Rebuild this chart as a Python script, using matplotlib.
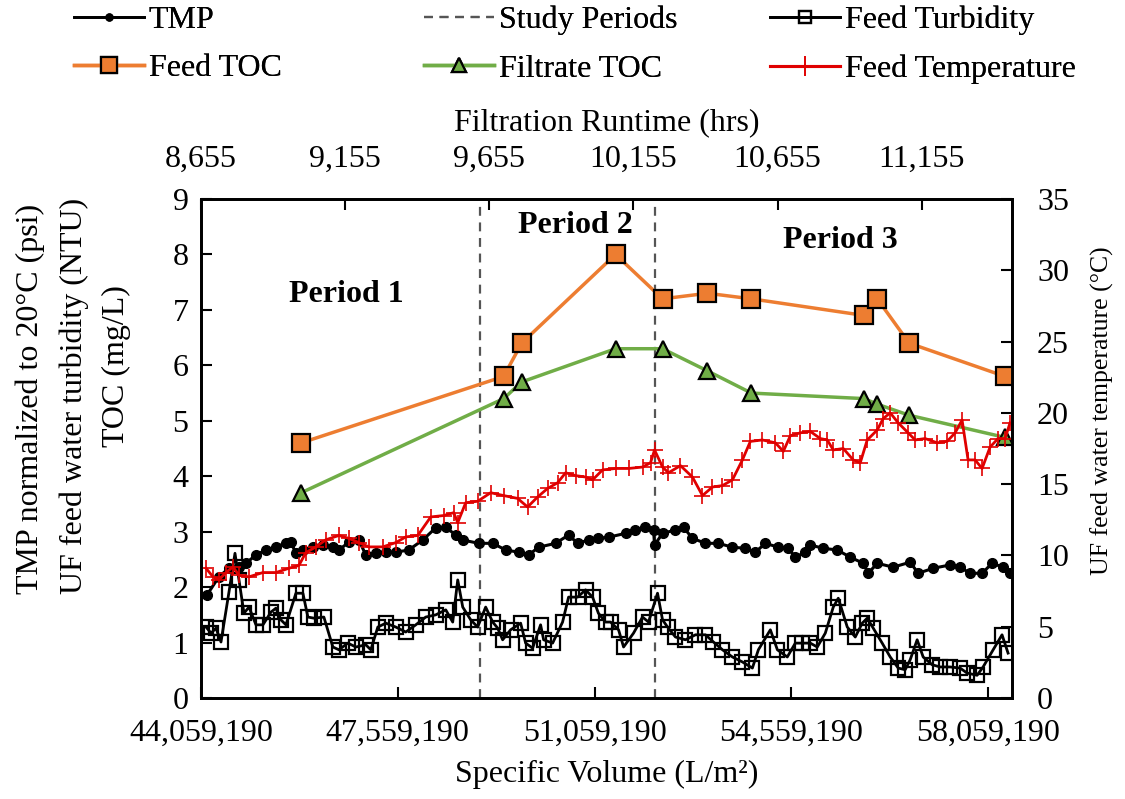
import numpy as np
import matplotlib.pyplot as plt
from matplotlib.lines import Line2D
from matplotlib.ticker import FuncFormatter

plt.rcParams['font.family'] = ['Liberation Serif', 'DejaVu Serif']
plt.rcParams['font.size'] = 23

# specific volume in millions of L/m2
toc_vol = [45.836, 49.442, 49.762, 51.432, 52.268, 53.067, 53.848, 55.856, 56.087, 56.655, 58.361]
feed_toc = [4.6, 5.8, 6.4, 8.0, 7.2, 7.3, 7.2, 6.9, 7.2, 6.4, 5.8]
filtrate_toc = [3.7, 5.4, 5.7, 6.3, 6.3, 5.9, 5.5, 5.4, 5.3, 5.1, 4.7]

tmp_vol = [44.166, 44.379, 44.556, 44.734, 44.858, 45.036, 45.214, 45.391, 45.569, 45.658,
           45.747, 45.871, 46.049, 46.226, 46.404, 46.511, 46.688, 46.866, 46.990, 47.168,
           47.346, 47.523, 47.754, 48.003, 48.234, 48.412, 48.589, 48.714, 48.998, 49.247,
           49.478, 49.708, 49.886, 50.064, 50.366, 50.597, 50.757, 50.953, 51.113, 51.308,
           51.610, 51.787, 51.965, 52.108, 52.126, 52.268, 52.498, 52.641, 52.800, 53.032,
           53.262, 53.511, 53.742, 53.920, 54.097, 54.328, 54.505, 54.630, 54.807, 54.896,
           55.127, 55.376, 55.607, 55.838, 55.927, 56.087, 56.371, 56.673, 56.815, 57.081,
           57.384, 57.561, 57.739, 57.952, 58.130, 58.325, 58.449]
tmp = [1.86, 2.19, 2.34, 2.37, 2.43, 2.58, 2.67, 2.72, 2.80, 2.81,
       2.61, 2.67, 2.72, 2.76, 2.72, 2.67, 2.81, 2.85, 2.58, 2.62,
       2.63, 2.63, 2.67, 2.85, 3.07, 3.08, 2.94, 2.85, 2.79, 2.79,
       2.67, 2.63, 2.58, 2.72, 2.79, 2.94, 2.79, 2.85, 2.88, 2.90,
       2.97, 3.03, 3.08, 3.03, 2.76, 2.97, 3.03, 3.08, 2.88, 2.79,
       2.79, 2.72, 2.70, 2.63, 2.79, 2.72, 2.70, 2.54, 2.63, 2.76,
       2.70, 2.67, 2.54, 2.43, 2.25, 2.43, 2.36, 2.45, 2.25, 2.34,
       2.40, 2.36, 2.25, 2.25, 2.43, 2.36, 2.25]

turb_vol = [44.148, 44.237, 44.325, 44.414, 44.556, 44.663, 44.734, 44.823, 44.912, 45.036,
            45.160, 45.303, 45.391, 45.480, 45.569, 45.747, 45.871, 45.960, 46.067, 46.244,
            46.404, 46.511, 46.671, 46.813, 46.990, 47.079, 47.204, 47.346, 47.523, 47.701,
            47.879, 48.056, 48.234, 48.412, 48.536, 48.625, 48.714, 48.856, 48.980, 49.122,
            49.247, 49.336, 49.424, 49.566, 49.744, 49.833, 49.957, 50.099, 50.153, 50.313,
            50.490, 50.597, 50.757, 50.899, 51.024, 51.127, 51.254, 51.343, 51.486, 51.575,
            51.752, 51.912, 52.019, 52.179, 52.268, 52.357, 52.498, 52.676, 52.854, 53.032,
            53.174, 53.334, 53.511, 53.689, 53.866, 53.973, 54.186, 54.311, 54.487, 54.630,
            54.754, 54.896, 55.021, 55.163, 55.305, 55.394, 55.554, 55.696, 55.820, 55.909,
            56.016, 56.175, 56.318, 56.460, 56.584, 56.673, 56.797, 56.904, 57.064, 57.206,
            57.384, 57.561, 57.685, 57.863, 57.970, 58.149, 58.307, 58.414]
turbidity = [1.28, 1.17, 1.26, 1.01, 1.91, 2.61, 2.13, 1.53, 1.64, 1.32,
             1.32, 1.55, 1.62, 1.41, 1.32, 1.89, 1.89, 1.46, 1.44, 1.46,
             0.92, 0.87, 0.99, 0.92, 0.96, 0.87, 1.28, 1.35, 1.28, 1.19,
             1.32, 1.46, 1.50, 1.59, 1.37, 2.13, 1.64, 1.41, 1.28, 1.64,
             1.37, 1.26, 1.05, 1.23, 1.35, 0.99, 0.90, 1.32, 1.05, 0.99,
             1.37, 1.82, 1.82, 1.95, 1.82, 1.53, 1.37, 1.37, 1.23, 0.92,
             1.17, 1.46, 1.37, 1.89, 1.41, 1.28, 1.10, 1.05, 1.14, 1.14,
             1.01, 0.87, 0.74, 0.65, 0.54, 0.87, 1.23, 0.87, 0.74, 0.99,
             0.99, 0.99, 0.92, 1.17, 1.64, 1.80, 1.28, 1.10, 1.35, 1.44,
             1.26, 0.99, 0.74, 0.54, 0.51, 0.69, 1.05, 0.74, 0.60, 0.56,
             0.56, 0.54, 0.45, 0.41, 0.56, 0.87, 1.14, 0.81]

temp_vol = [44.148, 44.272, 44.379, 44.503, 44.628, 44.734, 44.912, 45.160, 45.391, 45.622,
            45.800, 45.924, 46.102, 46.280, 46.511, 46.688, 46.866, 47.044, 47.292, 47.523,
            47.701, 47.914, 48.145, 48.376, 48.554, 48.625, 48.767, 48.980, 49.211, 49.442,
            49.690, 49.868, 50.046, 50.224, 50.402, 50.544, 50.722, 50.899, 51.024, 51.201,
            51.432, 51.663, 51.912, 52.054, 52.126, 52.268, 52.374, 52.587, 52.800, 52.978,
            53.156, 53.334, 53.511, 53.689, 53.830, 54.044, 54.275, 54.417, 54.541, 54.719,
            54.896, 55.074, 55.198, 55.305, 55.483, 55.660, 55.785, 55.909, 56.087, 56.193,
            56.318, 56.460, 56.637, 56.762, 56.939, 57.153, 57.330, 57.472, 57.596, 57.703,
            57.828, 57.952, 58.094, 58.236, 58.361, 58.449]
feed_temp = [9.1, 8.5, 8.3, 8.8, 9.2, 8.6, 8.5, 8.8, 8.8, 9.1,
             9.3, 10.2, 10.6, 11.1, 11.4, 11.2, 10.9, 10.6, 10.6, 10.9,
             11.3, 11.4, 12.7, 12.8, 13.0, 12.3, 13.7, 13.8, 14.4, 14.2,
             14.0, 13.4, 14.1, 14.7, 15.1, 15.8, 15.6, 15.5, 15.3, 16.0,
             16.1, 16.1, 16.2, 16.5, 17.4, 16.2, 15.8, 16.3, 15.5, 14.2,
             14.8, 14.9, 15.3, 16.7, 18.0, 18.1, 17.9, 17.3, 18.4, 18.6,
             18.7, 18.2, 18.1, 17.4, 17.5, 16.7, 16.5, 18.1, 18.8, 19.6,
             20.0, 19.3, 18.6, 18.1, 18.2, 17.9, 18.0, 18.6, 19.5, 16.7,
             16.7, 16.1, 17.6, 18.2, 18.2, 19.3]

period_bounds = [49.016, 52.126]
period_labels = ['Period 1', 'Period 2', 'Period 3']
period_label_pos = [(46.635, 7.27), (50.721, 8.52), (55.429, 8.26)]

vol_start = 44.05919
vol_ticks = [vol_start + 3.5 * i for i in range(5)]
hrs_ticks = [8655, 9155, 9655, 10155, 10655, 11155]
vol_end = 58.485
hrs_per_mvol = 500 / 2.5637

orange = '#ED7D31'
green = '#70AD47'
red = '#E00000'
dash_grey = '#555555'

fig = plt.figure(figsize=(11.25, 7.99), dpi=100)
ax = fig.add_axes([0.1787, 0.1264, 0.7209, 0.6245])
ax_r = ax.twinx()
ax_t = ax.twiny()

for xb in period_bounds:
    ax.axvline(xb, color=dash_grey, ls=(0, (4, 3)), lw=1.6, zorder=1)

ax.plot(tmp_vol, tmp, color='black', lw=2.2, marker='o', ms=7, zorder=3)
ax.plot(turb_vol, turbidity, color='black', lw=2, marker='s', ms=10,
        mfc='none', mec='black', mew=1.6, zorder=3)
ax.plot(toc_vol, feed_toc, color=orange, lw=2.5, marker='s', ms=13,
        mfc=orange, mec='black', mew=1.6, zorder=4)
ax.plot(toc_vol, filtrate_toc, color=green, lw=2.5, marker='^', ms=12,
        mfc=green, mec='black', mew=1.6, zorder=4)
ax_r.plot(temp_vol, feed_temp, color=red, lw=2, marker='+', ms=11, mew=1.2)

for (px, py), txt in zip(period_label_pos, period_labels):
    ax.text(px, py, txt, ha='center', va='center', fontweight='bold')

ax.set_xlim(vol_start, vol_end)
ax.set_ylim(0, 9)
ax.set_yticks(range(10))
ax.set_xticks(vol_ticks)
ax.xaxis.set_major_formatter(FuncFormatter(lambda v, p: f'{v * 1e6:,.0f}'))
ax_r.set_ylim(0, 35)
ax_r.set_yticks(range(0, 36, 5))
ax_t.set_xlim(8655, 8655 + (vol_end - vol_start) * hrs_per_mvol)
ax_t.set_xticks(hrs_ticks)
ax_t.xaxis.set_major_formatter(FuncFormatter(lambda v, p: f'{v:,.0f}'))

ax.tick_params(axis='x', direction='in', length=8, width=1.5, pad=15)
ax.tick_params(axis='y', direction='in', length=8, width=1.5, pad=9)
ax_r.tick_params(axis='y', direction='in', length=8, width=1.5, pad=18)
ax_t.tick_params(axis='x', direction='in', length=8, width=1.5, pad=18)
for a in (ax, ax_r, ax_t):
    for s in a.spines.values():
        s.set_linewidth(1.8)

# three-line title on the left axis, one text per line
left_title = ['TMP normalized to 20°C (psi)', 'UF feed water turbidity (NTU)', 'TOC (mg/L)']
for xpix, ypix, line in zip([30, 74, 116], [399, 396, 366], left_title):
    fig.text(xpix / 1125, 1 - ypix / 799, line, rotation=90, ha='center', va='center')
fig.text(1102 / 1125, 1 - 411 / 799, 'UF feed water temperature (°C)',
         rotation=90, ha='center', va='center', fontsize=18.5)

ax.set_xlabel('Specific Volume (L/m²)')
ax.xaxis.set_label_coords(0.5, -0.125)
ax_t.set_xlabel('Filtration Runtime (hrs)')
ax_t.xaxis.set_label_coords(0.5, 1.138)

legend_cols = [
    (72, [Line2D([], [], color='black', lw=2, marker='o', ms=5),
          Line2D([], [], color=orange, lw=2.5, marker='s', ms=12, mfc=orange, mec='black', mew=1.6)],
     ['TMP', 'Feed TOC']),
    (422, [Line2D([], [], color=dash_grey, lw=1.6, ls=(0, (4, 3))),
           Line2D([], [], color=green, lw=2.5, marker='^', ms=10, mfc=green, mec='black', mew=1.6)],
     ['Study Periods', 'Filtrate TOC']),
    (768, [Line2D([], [], color='black', lw=2, marker='s', ms=9, mfc='none', mew=1.6),
           Line2D([], [], color=red, lw=2.2, marker='+', ms=14, mew=1.2)],
     ['Feed Turbidity', 'Feed Temperature']),
]
for xpix, hs, ls in legend_cols:
    leg = fig.legend(hs, ls, loc='upper left', bbox_to_anchor=(xpix / 1125, 1 - 4 / 799),
                     frameon=False, handlelength=2.2, handletextpad=0.15,
                     labelspacing=0.6, numpoints=1, borderpad=0.05, borderaxespad=0)
    fig.add_artist(leg)

fig.savefig('out.png', dpi=100)
